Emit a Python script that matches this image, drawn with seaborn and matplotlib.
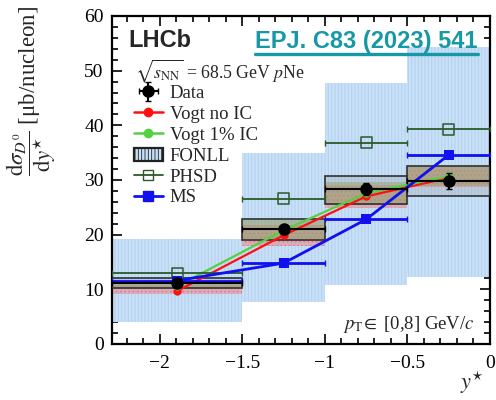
import matplotlib
matplotlib.use("Agg")
import matplotlib.pyplot as plt
from matplotlib.patches import Rectangle, Patch
from matplotlib.lines import Line2D
from matplotlib.ticker import MultipleLocator
import pandas as pd
import seaborn as sns

# rapidity bins (y*)
bin_lo = [-2.29, -1.5, -1.0, -0.5]
bin_hi = [-1.5, -1.0, -0.5, 0.0]
bin_mid = [-1.895, -1.25, -0.75, -0.25]

# LHCb measurement
data_val = [11.2, 21.0, 28.3, 29.8]
data_err = [0.8, 0.8, 1.1, 1.4]
syst_lo = [10.2, 19.1, 25.6, 27.1]
syst_hi = [12.1, 22.9, 30.7, 32.6]

# Vogt predictions
vogt_noic = [9.7, 19.9, 27.0, 30.4]
vogt_noic_lo = [9.2, 17.9, 24.9, 28.7]
vogt_noic_hi = [10.8, 21.8, 29.0, 32.3]
vogt_ic = [10.6, 20.8, 27.6, 30.7]
vogt_ic_lo = [10.1, 19.0, 25.4, 28.9]
vogt_ic_hi = [11.6, 22.6, 29.6, 32.6]

# FONLL uncertainty band
fonll_lo = [4.1, 7.7, 10.8, 12.3]
fonll_hi = [19.2, 35.0, 47.7, 54.3]

# PHSD and MS predictions
phsd_val = [13.0, 26.6, 36.8, 39.3]
ms_val = [11.6, 14.8, 22.8, 34.6]

x_ticks = [-2, -1.5, -1, -0.5, 0]
x_tick_labels = ["\u22122", "\u22121.5", "\u22121", "\u22120.5", "0"]
y_ticks = [0, 10, 20, 30, 40, 50, 60]

sns.set_style("ticks")
plt.rcParams["font.family"] = ["Liberation Serif", "DejaVu Serif"]
plt.rcParams["mathtext.fontset"] = "stix"
plt.rcParams["hatch.linewidth"] = 0.6

C_RED = "#ff1010"
C_GREEN = "#55d040"
C_PHSD = "#2a5a2a"
C_MS = "#1010f0"
C_BLUE_FILL = "#c9e0f6"
C_BLUE_HATCH = "#aecff0"
C_EPJ = "#1798a6"

fig = plt.figure(figsize=(4.96, 4.0), dpi=100)
ax = fig.add_axes([112 / 496, 56 / 400, 378 / 496, 328 / 400])

widths = [h - l for l, h in zip(bin_lo, bin_hi)]

# FONLL boxes
for l, w, lo, hi in zip(bin_lo, widths, fonll_lo, fonll_hi):
    ax.add_patch(Rectangle((l, lo), w, hi - lo, facecolor=C_BLUE_FILL,
                           edgecolor=C_BLUE_HATCH, hatch="|||||", lw=0, zorder=1))

# Vogt bands
for l, w, lo, hi in zip(bin_lo, widths, vogt_noic_lo, vogt_noic_hi):
    ax.add_patch(Rectangle((l, lo), w, hi - lo, facecolor=(0.97, 0.45, 0.45, 0.45),
                           edgecolor=(0.95, 0.3, 0.3, 0.5), hatch="....",
                           lw=0, zorder=2))
for l, w, lo, hi in zip(bin_lo, widths, vogt_ic_lo, vogt_ic_hi):
    ax.add_patch(Rectangle((l, lo), w, hi - lo, facecolor=(0.55, 0.65, 0.3, 0.45),
                           lw=0, zorder=2))

# data systematic boxes
for l, w, lo, hi in zip(bin_lo, widths, syst_lo, syst_hi):
    ax.add_patch(Rectangle((l, lo), w, hi - lo, facecolor=(0.6, 0.6, 0.6, 0.28),
                           edgecolor="#303030", lw=1.2, zorder=3))

df_vogt = pd.DataFrame({"y": bin_mid * 2, "v": vogt_noic + vogt_ic,
                        "model": ["noIC"] * 4 + ["IC"] * 4})
sns.lineplot(data=df_vogt, x="y", y="v", hue="model",
             palette={"noIC": C_RED, "IC": C_GREEN}, marker="o", markersize=6,
             markeredgewidth=0, lw=1.6, legend=False, ax=ax, zorder=4)

xerr_lo = [m - l for m, l in zip(bin_mid, bin_lo)]
xerr_hi = [h - m for m, h in zip(bin_mid, bin_hi)]

# PHSD
ax.errorbar(bin_mid, phsd_val, xerr=[xerr_lo, xerr_hi], fmt="none",
            ecolor=C_PHSD, elinewidth=1.3, capsize=2.5, zorder=5)
sns.scatterplot(x=bin_mid, y=phsd_val, marker="s", s=60, facecolor="none",
                edgecolor=C_PHSD, linewidth=1.1, ax=ax, zorder=6)

# MS
ax.errorbar(bin_mid, ms_val, xerr=[xerr_lo, xerr_hi], fmt="none",
            ecolor=C_MS, elinewidth=2.0, capsize=2.5, zorder=5)
sns.lineplot(x=bin_mid, y=ms_val, color=C_MS, lw=2.0, marker="s",
             markersize=7.5, markeredgewidth=0, ax=ax, zorder=6)

# data
data_eb = ax.errorbar(bin_mid, data_val, xerr=[xerr_lo, xerr_hi], yerr=data_err,
                      fmt="o", color="black", markersize=8, elinewidth=1.5,
                      capsize=2.5, zorder=7)

ax.set_xlim(-2.29, 0)
ax.set_ylim(0, 60)
ax.set_xticks(x_ticks)
ax.set_xticklabels(x_tick_labels)
ax.set_yticks(y_ticks)
ax.xaxis.set_minor_locator(MultipleLocator(0.1))
ax.yaxis.set_minor_locator(MultipleLocator(2))
ax.tick_params(which="both", direction="in", top=True, right=True,
               width=1.2, colors="black", labelsize=14)
ax.tick_params(which="major", length=7)
ax.tick_params(axis="x", which="major", pad=8)
ax.tick_params(axis="y", which="major", pad=6)
ax.tick_params(which="minor", length=4)
for sp in ax.spines.values():
    sp.set_linewidth(1.6)
    sp.set_color("black")
ax.set_xlabel("")
ax.set_ylabel("")

# axis titles
fig.text(484 / 496, 1 - 383 / 400, r"$y^{\star}$", ha="right", va="center",
         fontsize=16)
fig.text(31 / 496, 1 - 6 / 400,
         r"$\dfrac{\mathrm{d}\sigma_{D^0}}{\mathrm{d}y^{\star}}$ [" + "\u03bc" + "b/nucleon]",
         rotation=90, ha="center", va="top", fontsize=16.5)

# annotations
ax.text(0.042, 0.905, "LHCb", transform=ax.transAxes, fontsize=17,
        fontweight="bold", family="Liberation Sans", ha="left", va="baseline")
epj = ax.text(0.967, 0.903, "EPJ. C83 (2023) 541", transform=ax.transAxes,
              fontsize=17, fontweight="bold", family="Liberation Sans",
              color=C_EPJ, ha="right", va="baseline")
ax.text(0.06, 0.81, r"$\sqrt{s_{\mathrm{NN}}}$ = 68.5 GeV $p$Ne",
        transform=ax.transAxes, fontsize=12.8, ha="left", va="baseline")
ax.text(0.96, 0.045, r"$p_{\mathrm{T}}\!\in$ [0,8] GeV/$c$",
        transform=ax.transAxes, fontsize=13.5, ha="right", va="baseline")

# legend
handles = [
    data_eb,
    Line2D([], [], color=C_RED, marker="o", markersize=6, lw=1.8),
    Line2D([], [], color=C_GREEN, marker="o", markersize=6, lw=1.8),
    Patch(facecolor=C_BLUE_FILL, edgecolor="#222222", lw=1.6, hatch="|||||"),
    Line2D([], [], color=C_PHSD, marker="s", markersize=6.5, mfc="none", lw=1.3),
    Line2D([], [], color=C_MS, marker="s", markersize=6.5, lw=2.0),
]
labels = ["Data", "Vogt no IC", "Vogt 1% IC", "FONLL", "PHSD", "MS"]
ax.legend(handles, labels, loc="upper left", bbox_to_anchor=(0.058, 0.79),
          frameon=False, fontsize=13.5, handlelength=1.55, handletextpad=0.35,
          labelspacing=0.2, borderpad=0, borderaxespad=0)

# underline for the reference label
fig.canvas.draw()
bb = epj.get_window_extent()
inv = fig.transFigure.inverted()
(x0, y0), (x1, _) = inv.transform([(bb.x0, bb.y0 - 1.0), (bb.x1, bb.y0)])
fig.add_artist(Line2D([x0, x1], [y0, y0], color=C_EPJ, lw=2.4,
                      transform=fig.transFigure))

fig.savefig("out.png", dpi=100)
